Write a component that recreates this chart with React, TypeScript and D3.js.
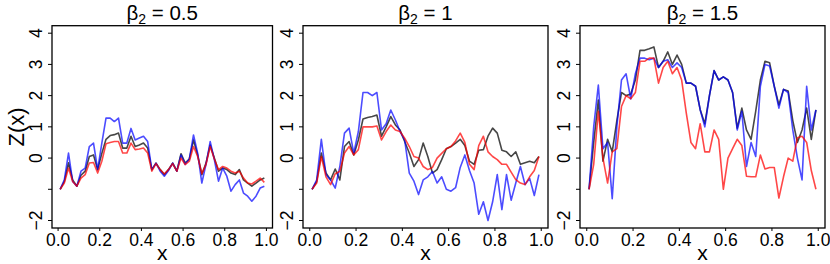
import * as d3 from 'd3'

const xs = [0.01, 0.03, 0.05, 0.07, 0.09, 0.11, 0.13, 0.15, 0.17, 0.19,
  0.21, 0.23, 0.25, 0.27, 0.29, 0.31, 0.33, 0.35, 0.37, 0.39,
  0.41, 0.43, 0.45, 0.47, 0.49, 0.51, 0.53, 0.55, 0.57, 0.59,
  0.61, 0.63, 0.65, 0.67, 0.69, 0.71, 0.73, 0.75, 0.77, 0.79,
  0.81, 0.83, 0.85, 0.87, 0.89, 0.91, 0.93, 0.95, 0.97, 0.99]

const titles = ['0.5', '1', '1.5']
const xTicks = [0, 0.2, 0.4, 0.6, 0.8, 1.0]
const yTicks = [-2, -1, 0, 1, 2, 3, 4]
const yLabels = ['−2', '', '0', '1', '2', '3', '4']

// beta2 = 0.5
const gray1 = [-1.0, -0.75, -0.15, -0.7, -0.9, -0.55, -0.42, 0.05, 0.1, -0.37,
  0.15, 0.6, 0.72, 0.75, 0.8, 0.32, 0.32, 0.7, 0.37, 0.42,
  0.48, 0.32, -0.37, -0.16, -0.37, -0.53, -0.37, -0.16, -0.42, 0.14,
  -0.16, -0.03, 0.58, 0.1, -0.53, -0.16, 0.42, 0.0, -0.42, -0.32,
  -0.37, -0.48, -0.53, -0.37, -0.7, -0.8, -0.9, -0.8, -0.7, -0.64]
const blue1 = [-1.0, -0.7, 0.16, -0.75, -0.9, -0.42, -0.32, 0.37, 0.48, -0.37,
  0.48, 1.28, 1.28, 1.17, 1.28, 0.48, 0.48, 0.95, 0.58, 0.64,
  0.7, 0.53, -0.37, -0.16, -0.42, -0.58, -0.4, -0.16, -0.42, 0.1,
  -0.2, -0.03, 0.74, 0.16, -0.8, -0.2, 0.53, -0.05, -0.74, -0.32,
  -0.58, -1.06, -0.85, -0.7, -1.12, -1.22, -1.38, -1.22, -0.96, -0.9]
const red1 = [-1.0, -0.8, -0.32, -0.75, -0.9, -0.64, -0.53, -0.16, -0.14, -0.48,
  -0.1, 0.46, 0.5, 0.53, 0.53, 0.16, 0.16, 0.48, 0.27, 0.29,
  0.32, 0.16, -0.42, -0.18, -0.37, -0.51, -0.37, -0.18, -0.42, 0.0,
  -0.21, -0.1, 0.37, 0.05, -0.5, -0.21, 0.37, -0.03, -0.37, -0.27,
  -0.32, -0.42, -0.48, -0.42, -0.64, -0.8, -0.83, -0.74, -0.64, -0.78]

// beta2 = 1
const gray2 = [-1.0, -0.75, 0.16, -0.48, -0.7, -0.35, -0.7, 0.37, 0.53, 0.1,
  0.58, 1.25, 1.3, 1.33, 1.38, 0.7, 1.0, 1.33, 1.06, 0.9,
  0.53, 0.16, -0.27, -0.05, 0.48, 0.05, -0.48, -0.37, -0.05, 0.3,
  0.37, 0.48, 0.6, 0.4, -0.1, -0.2, 0.25, 0.27, 0.7, 0.96,
  0.8, 0.25, 0.2, 0.05, 0.2, -0.2, -0.15, -0.1, -0.15, 0.05]
const blue2 = [-1.0, -0.7, 0.6, -0.53, -0.7, -0.96, -0.27, 0.8, 0.96, 0.16,
  0.85, 2.1, 2.1, 2.0, 2.1, 0.9, 1.1, 1.54, 1.22, 0.85,
  0.58, -0.48, -0.74, -1.17, -0.7, -0.6, -0.43, -0.8, -0.6, -1.0,
  -1.06, -0.95, -0.3, 0.1, -0.4, -0.8, -1.8, -1.4, -2.0, -1.4,
  -0.53, -1.65, -0.53, -1.35, -0.8, -0.27, -0.85, -0.65, -1.2, -0.53]
const red2 = [-1.0, -0.8, 0.05, -0.6, -0.85, -0.5, -0.42, 0.16, 0.37, 0.1,
  0.27, 1.0, 1.0, 1.0, 1.03, 0.58, 0.85, 1.06, 0.9, 0.85,
  0.64, 0.37, 0.05, 0.0, -0.27, -0.37, -0.3, 0.0, 0.15, 0.3,
  0.37, 0.55, 0.8, 0.5, -0.2, -0.37, 0.4, 0.7, 0.2, 0.05,
  -0.05, -0.2, -0.2, -0.45, -0.69, -0.8, -0.85, -0.6, -0.4, 0.05]

// beta2 = 1.5
const gray3 = [-1.0, 0.5, 1.86, -0.1, 0.6, 0.2, 1.2, 2.1, 2.0, 2.05,
  2.5, 3.45, 3.45, 3.5, 3.56, 2.9, 3.1, 3.4, 3.0, 3.3,
  3.0, 2.4, 2.4, 2.3, 1.55, 1.1, 2.0, 2.8, 2.5, 2.6,
  2.5, 2.1, 0.96, 1.6, 0.9, 0.6, 1.5, 2.5, 3.1, 3.05,
  2.3, 1.7, 2.2, 2.15, 1.2, 0.5, 0.9, 1.6, 0.6, 1.54]
const blue3 = [-1.0, 1.0, 2.34, 0.3, 0.5, -1.3, 1.0, 2.5, 2.7, 1.9,
  2.7, 3.2, 3.2, 3.15, 3.2, 2.9, 3.1, 3.15, 2.9, 3.05,
  2.9, 2.4, 2.4, 2.3, 1.55, 1.0, 2.0, 2.8, 2.5, 2.6,
  2.5, 2.1, 0.9, 1.5, -0.27, 0.5, 0.05, 2.3, 3.0, 2.95,
  2.3, 1.6, 2.2, 2.1, 0.9, 0.0, -0.7, 2.3, 0.9, 1.54]
const red3 = [-1.0, -0.2, 1.5, 0.0, -0.8, 0.2, 0.3, 1.65, 2.0, 1.9,
  2.1, 3.1, 3.1, 3.2, 3.2, 2.4, 2.9, 3.1, 2.7, 2.9,
  2.5, 1.44, 0.5, 0.3, 1.1, 0.2, 0.2, 0.9, 0.6, -1.0,
  0.0, 0.3, 0.6, 0.4, -0.58, -0.6, -0.6, 0.1, -0.35, -0.3,
  -0.3, -1.28, -0.6, 0.0, -0.1, 0.65, 0.7, 0.5, -0.4, -1.0]

const series = [
  [gray1, blue1, red1],
  [gray2, blue2, red2],
  [gray3, blue3, red3],
]
const colors = ['rgba(0,0,0,0.72)', 'rgba(0,0,255,0.7)', 'rgba(255,0,0,0.72)']

const boxes = [
  { left: 52, right: 272.5 },
  { left: 303, right: 548 },
  { left: 580, right: 825 },
]
const top = 25.7
const bottom = 228
const font = '"Liberation Sans", Arial, Helvetica, sans-serif'

function Panel({ i }: { i: number }) {
  const { left, right } = boxes[i]
  const x = d3.scaleLinear().domain([-0.0292, 1.0292]).range([left, right])
  const y = d3.scaleLinear().domain([-2.24, 4.24]).range([bottom, top])
  const line = d3.line<number>()
    .x((_, k) => x(xs[k]))
    .y(d => y(d))
  const cx = (left + right) / 2

  return (
    <g>
      {series[i].map((s, k) => (
        <path key={k} d={line(s) || ''} fill="none" stroke={colors[k]}
          strokeWidth={1.6} strokeLinejoin="round" />
      ))}
      <rect x={left} y={top} width={right - left} height={bottom - top}
        fill="none" stroke="#000" strokeWidth={1.3} />

      {yTicks.map((t, k) => (
        <g key={k}>
          <line x1={left - 4} x2={left} y1={y(t)} y2={y(t)} stroke="#000" strokeWidth={1} />
          {yLabels[k] && (
            <text transform={`translate(${left - 10},${y(t)}) rotate(-90)`}
              textAnchor="middle" fontSize={17.5} fontFamily={font}>{yLabels[k]}</text>
          )}
        </g>
      ))}

      {xTicks.map(t => (
        <g key={t}>
          <line x1={x(t)} x2={x(t)} y1={bottom} y2={bottom + 3} stroke="#000" strokeWidth={1} />
          <text x={x(t)} y={245.5} textAnchor="middle" fontSize={17.5} fontFamily={font}>
            {t.toFixed(1)}
          </text>
        </g>
      ))}

      <text x={cx} y={259.5} textAnchor="middle" fontSize={21} fontFamily={font}>x</text>

      <text x={cx} y={20} textAnchor="middle" fontSize={20.5} fontFamily={font}>
        β<tspan fontSize={14} dy={4}>2</tspan>
        <tspan dy={-4}>{' = ' + titles[i]}</tspan>
      </text>
    </g>
  )
}

export default function App() {
  return (
    <svg width={830} height={264} style={{ position: 'absolute', left: 0, top: 0, background: '#fff' }}>
      <rect width={830} height={264} fill="#fff" />
      {boxes.map((_, i) => <Panel key={i} i={i} />)}
      <text transform={`translate(24,${(top + bottom) / 2}) rotate(-90)`} textAnchor="middle"
        fontSize={22} fontFamily={font}>Z(x)</text>
    </svg>
  )
}
